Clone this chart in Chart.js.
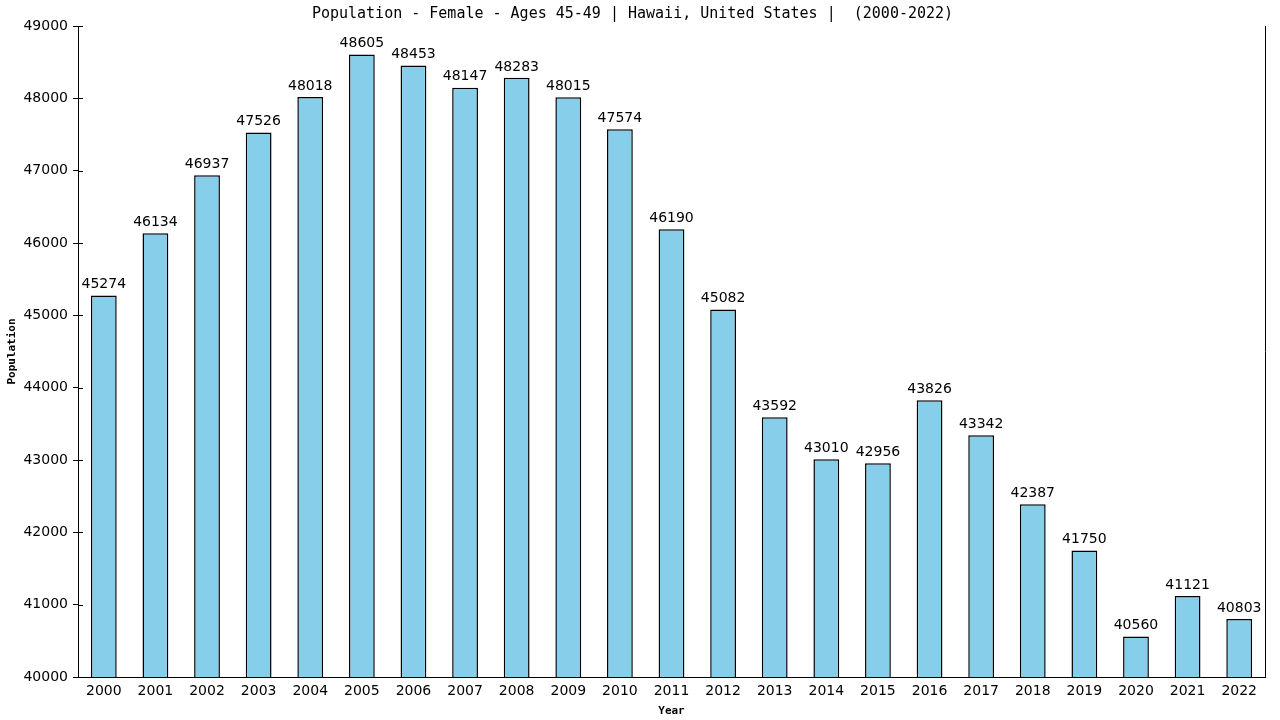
<!DOCTYPE html>
<html>
<head>
<meta charset="utf-8">
<script src="https://cdn.jsdelivr.net/npm/chart.js@4"></script>
<style>
    html, body { margin: 0; padding: 0; background: #fff; }
    canvas { display: block; }
</style>
</head>
<body>
<canvas id="popChart" width="1280" height="720"></canvas>
<script>
const years = ['2000', '2001', '2002', '2003', '2004', '2005', '2006', '2007', '2008', '2009', '2010', '2011',
    '2012', '2013', '2014', '2015', '2016', '2017', '2018', '2019', '2020', '2021', '2022'];
const femalePop = [45274, 46134, 46937, 47526, 48018, 48605, 48453, 48147, 48283, 48015, 47574, 46190,
    45082, 43592, 43010, 42956, 43826, 43342, 42387, 41750, 40560, 41121, 40803];
const yMin = 40000;
const yMax = 49000;
const yStep = 1000;

/* =====================
   value labels on top of bars, inner y ticks, right border line
   ===================== */
const barLabels = {
    id: 'barLabels',
    afterDatasetsDraw(chart) {
        const ctx = chart.ctx;
        const meta = chart.getDatasetMeta(0);
        const a = chart.chartArea;
        ctx.save();
        ctx.font = '14px "DejaVu Sans"';
        ctx.fillStyle = '#000';
        ctx.textAlign = 'center';
        ctx.textBaseline = 'bottom';
        meta.data.forEach((bar, i) => {
            ctx.fillText(String(femalePop[i]), bar.x, bar.y - 4);
        });
        ctx.strokeStyle = '#000';
        ctx.lineWidth = 1;
        ctx.beginPath();
        // right edge of plot
        ctx.moveTo(Math.round(a.right) + 0.5, a.top);
        ctx.lineTo(Math.round(a.right) + 0.5, a.bottom);
        // tick marks reaching into the plot
        const y = chart.scales.y;
        for (let v = yMin; v <= yMax; v += yStep) {
            const py = Math.round(y.getPixelForValue(v)) + 0.5;
            ctx.moveTo(a.left, py);
            ctx.lineTo(a.left + 5, py);
        }
        ctx.stroke();
        ctx.restore();
    }
};

new Chart(document.getElementById('popChart'), {
    type: 'bar',
    data: {
        labels: years,
        datasets: [{
            label: 'Population',
            data: femalePop,
            backgroundColor: '#87CEEB',
            borderColor: '#000',
            borderWidth: 1.5,
            barPercentage: 0.5,
            categoryPercentage: 1.0
        }]
    },
    options: {
        responsive: false,
        devicePixelRatio: 1,
        animation: false,
        layout: { padding: { left: 0, right: 15, top: 0, bottom: 0 } },
        plugins: {
            legend: { display: false },
            tooltip: { enabled: false },
            title: {
                display: true,
                text: 'Population - Female - Ages 45-49 | Hawaii, United States |  (2000-2022)',
                color: '#000',
                font: { family: '"DejaVu Sans Mono"', size: 15, weight: 'normal' },
                padding: { top: 5, bottom: 3 }
            }
        },
        scales: {
            x: {
                grid: { display: false, drawTicks: false },
                border: { color: '#000', width: 1 },
                ticks: {
                    color: '#000',
                    font: { family: '"DejaVu Sans"', size: 14 },
                    padding: 6,
                    maxRotation: 0,
                    autoSkip: false
                },
                title: {
                    display: true,
                    text: 'Year',
                    color: '#000',
                    font: { family: '"DejaVu Sans Mono"', size: 11, weight: 'bold' },
                    padding: { top: 4, bottom: 2 }
                },
                afterFit: (s) => { s.height = 43; }
            },
            y: {
                min: yMin,
                max: yMax,
                grid: { display: true, drawOnChartArea: false, color: '#000', tickLength: 5 },
                border: { color: '#000', width: 1 },
                ticks: {
                    stepSize: yStep,
                    color: '#000',
                    font: { family: '"DejaVu Sans"', size: 14 },
                    padding: 5,
                    callback: (v) => String(v)
                },
                title: {
                    display: true,
                    text: 'Population',
                    color: '#000',
                    font: { family: '"DejaVu Sans Mono"', size: 11, weight: 'bold' },
                    padding: { top: 6, bottom: 2 }
                },
                afterFit: (s) => { s.width = 78; }
            }
        }
    },
    plugins: [barLabels]
});
</script>
</body>
</html>
